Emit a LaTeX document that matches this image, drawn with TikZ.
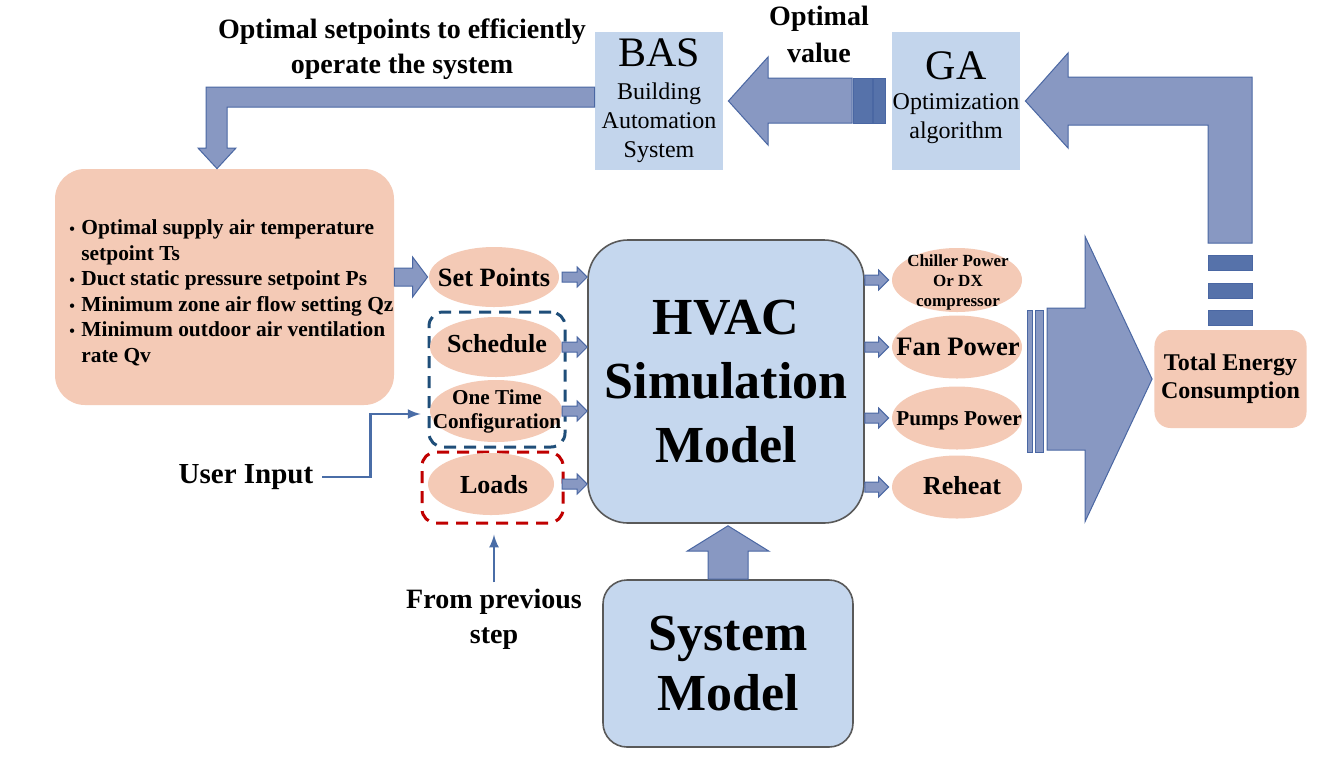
\documentclass[tikz,border=0pt]{standalone}
\usepackage{fontspec}
\setmainfont{Liberation Serif}
\usepackage{tikz}
\usetikzlibrary{arrows,shapes.geometric,calc}

\definecolor{salmon}{HTML}{F4CAB6}
\definecolor{paleblue}{HTML}{C3D5EC}
\definecolor{hvacblue}{HTML}{C5D7EE}
\definecolor{arrowfill}{HTML}{8898C2}
\definecolor{arrowedge}{HTML}{4A67A3}
\definecolor{barfill}{HTML}{5672AA}
\definecolor{dashblue}{HTML}{1F4E79}
\definecolor{dashred}{HTML}{C00000}
\definecolor{linkblue}{HTML}{4A6DA7}

\newcommand\fsz[2]{\fontsize{#1}{#2}\selectfont}
\newcommand\listbul{\makebox[6pt][l]{\fsz{8}{8}\textbullet}}
\newcommand\listind{\hspace*{6pt}}

% block arrow pointing right: start, tip, half shaft, half head, head length
\newcommand\rblock[5]{%
  \draw[blk] ($#1+(0,-#3)$) -- ($#2+(-#5,-#3)$) -- ($#2+(-#5,-#4)$) -- #2
    -- ($#2+(-#5,#4)$) -- ($#2+(-#5,#3)$) -- ($#1+(0,#3)$) -- cycle;}

\tikzset{
  blk/.style={fill=arrowfill,draw=arrowedge,line width=0.5pt},
  bar/.style={fill=barfill,draw=arrowedge,line width=0.5pt},
  pale/.style={fill=paleblue,inner sep=0pt},
  soft/.style={ellipse,fill=salmon,inner sep=0pt},
  stext/.style 2 args={align=center,inner sep=0pt,font=\bfseries\fsz{#1}{#2}},
  model/.style={draw=black!65,fill=hvacblue,line width=0.8pt,align=center},
  grp/.style={draw=#1,dash pattern=on 6pt off 4pt,line width=1.5pt,
    rounded corners=7pt,inner sep=0pt},
  conn/.style={draw=linkblue,line width=1.2pt,-latex},
  lbl/.style={align=center,font=\bfseries\fsz{14}{17.5}}
}

\begin{document}
\begin{tikzpicture}[x=0.5pt,y=-0.5pt]
    \useasboundingbox (0,0) rectangle (1326,761);
    \fill[white] (0,0) rectangle (1326,761);

    % top row
    \node[pale,minimum width=64pt,minimum height=69pt] (bas) at (659,101) {};
    \node[font=\fsz{21}{24}] (bas-t) at (659,53) {BAS};
    \node[align=center,font=\fsz{12}{14.5}] (bas-s) at (659,123) {Building\\Automation\\System};
    \node[pale,minimum width=64pt,minimum height=69pt] (ga) at (956,101) {};
    \node[font=\fsz{21}{24}] (ga-t) at (956,66) {GA};
    \node[align=center,font=\fsz{12}{14.5}] (ga-s) at (956,119) {Optimization\\algorithm};

    \node[lbl] (opt) at (402,49.5) {Optimal setpoints to efficiently\\operate the system};
    \node[lbl,font=\bfseries\fsz{14}{18.5}] (optv) at (819,34) {Optimal\\value};

    % setpoint list
    \node[fill=salmon,rounded corners=15pt,minimum width=169.5pt,minimum height=118pt] (list) at (224.5,287) {};
    \node[anchor=west,align=left,inner sep=0pt,font=\bfseries\fsz{10.7}{12.75}] (list-t) at (69,293)
        {\listbul Optimal supply air temperature\\
         \listind setpoint Ts\\
         \listbul Duct static pressure setpoint Ps\\
         \listbul Minimum zone air flow setting Qz\\
         \listbul Minimum outdoor air ventilation\\
         \listind rate Qv};

    % models
    \node[model,rounded corners=20pt,minimum width=138pt,minimum height=141.5pt,
        font=\bfseries\fsz{26}{32}] (hvac) at (726,381.5) {HVAC\\Simulation\\Model};
    \node[model,rounded corners=12pt,minimum width=125pt,minimum height=83.5pt,
        font=\bfseries\fsz{26}{30}] (sysm) at (728,663.5) {System\\Model};

    % inputs
    \node[grp=dashblue,minimum width=68pt,minimum height=67.5pt] (bgrp) at (497,379.5) {};
    \node[grp=dashred,minimum width=70.5pt,minimum height=35.5pt] (rgrp) at (492.5,487.5) {};
    \node[soft,minimum width=65pt,minimum height=30pt] (sp) at (494,277) {};
    \node[stext={13.2}{15}] (sp-t) at (sp) {Set Points};
    \node[soft,minimum width=66pt,minimum height=30pt] (sch) at (496,347) {};
    \node[stext={13}{15}] (sch-t) at (497,344) {Schedule};
    \node[soft,minimum width=66pt,minimum height=31pt] (otc) at (496,411) {};
    \node[stext={10.6}{12}] (otc-t) at (497,411) {One Time\\Configuration};
    \node[soft,minimum width=63pt,minimum height=31pt] (lds) at (491,484) {};
    \node[stext={13}{15}] (lds-t) at (494,485) {Loads};

    % outputs
    \node[soft,minimum width=65pt,minimum height=32pt] (chl) at (957,280) {};
    \node[stext={8.5}{10}] (chl-t) at (958,282) {Chiller Power\\Or DX\\compressor};
    \node[soft,minimum width=65pt,minimum height=31.5pt] (fan) at (957,347) {};
    \node[stext={13.3}{15}] (fan-t) at (958,347) {Fan Power};
    \node[soft,minimum width=65pt,minimum height=31.5pt] (pmp) at (957,418) {};
    \node[stext={10.6}{12}] (pmp-t) at (959,421) {Pumps Power};
    \node[soft,minimum width=65pt,minimum height=31.5pt] (rht) at (957,487) {};
    \node[stext={13}{15}] (rht-t) at (962,486) {Reheat};

    \node[fill=salmon,rounded corners=8pt,minimum width=74.5pt,minimum height=49pt,align=center,
        font=\bfseries\fsz{12}{14}] (tot) at (1230.5,379) {Total Energy\\Consumption};

    \node[lbl,font=\bfseries\fsz{14.5}{17.5}] (usr) at (246,477) {User Input};
    \node[lbl] (prev) at (494,619.5) {From previous\\step};

    % block arrows
    \draw[blk] (bas.west |- 0,87) -- (206,87) -- (206,148) -- (198,148) -- (list.north -| 217,0)
        -- (236,148) -- (227,148) -- (227,107) -- (bas.west |- 0,107) -- cycle;

    \foreach \a/\b in {853/872,873/885}
        \draw[bar] (\a,78) rectangle (\b,123);
    \draw[blk] (852,78) -- (768,78) -- (768,57) -- ($(bas.east)+(5,0)$) -- (768,145) -- (768,123)
        -- (852,123) -- cycle;

    \foreach \y in {255,283,310}
        \draw[bar] (1208,\y) rectangle (1252,\y+15);
    \draw[blk] (1208,243) -- (1208,125) -- (1068,125) -- (1068,148) -- ($(ga.east)+(5,0)$)
        -- (1068,53) -- (1068,77) -- (1252,77) -- (1252,243) -- cycle;

    \foreach \a/\b in {1027/1032,1035/1043}
        \draw[blk] (\a,310) rectangle (\b,452);
    \coordinate (bigs) at (tot.west -| 1047,0);
    \coordinate (bigt) at ($(tot.west)+(-2,0)$);
    \rblock{(bigs)}{(bigt)}{71}{142.5}{67}

    \coordinate (spa) at (list.east |- sp.west);
    \coordinate (spb) at ($(sp.west)+(-1,0)$);
    \rblock{(spa)}{(spb)}{9}{20}{15}

    \foreach \n in {sp,sch,otc,lds}{
        \coordinate (\n-a) at (562,0 |- \n.east);
        \coordinate (\n-b) at (\n-a -| hvac.west);
        \rblock{(\n-a)}{(\n-b)}{5}{10}{10}
    }
    \foreach \n in {chl,fan,pmp,rht}{
        \coordinate (\n-a) at (hvac.east |- \n.west);
        \coordinate (\n-b) at ($(\n.west)+(-3,0)$);
        \rblock{(\n-a)}{(\n-b)}{5}{10}{10}
    }

    \draw[blk] ($(sysm.north)+(-20,0)$) -- ++(0,-28) -- ++(-21,0) -- ($(sysm.north |- hvac.south)+(0,2)$)
        -- ($(sysm.north)+(41,-28)$) -- ++(-21,0) -- ++(0,28) -- cycle;

    % thin connectors
    \draw[conn] ([xshift=1pt]usr.east) -| ([xshift=-29.5pt,yshift=-1.5pt]otc.west)
        -- ([xshift=-4.5pt,yshift=-1.5pt]otc.west);
    \draw[conn] (prev.north) -- ($(prev.north |- rgrp.south)+(0,10)$);
\end{tikzpicture}
\end{document}
